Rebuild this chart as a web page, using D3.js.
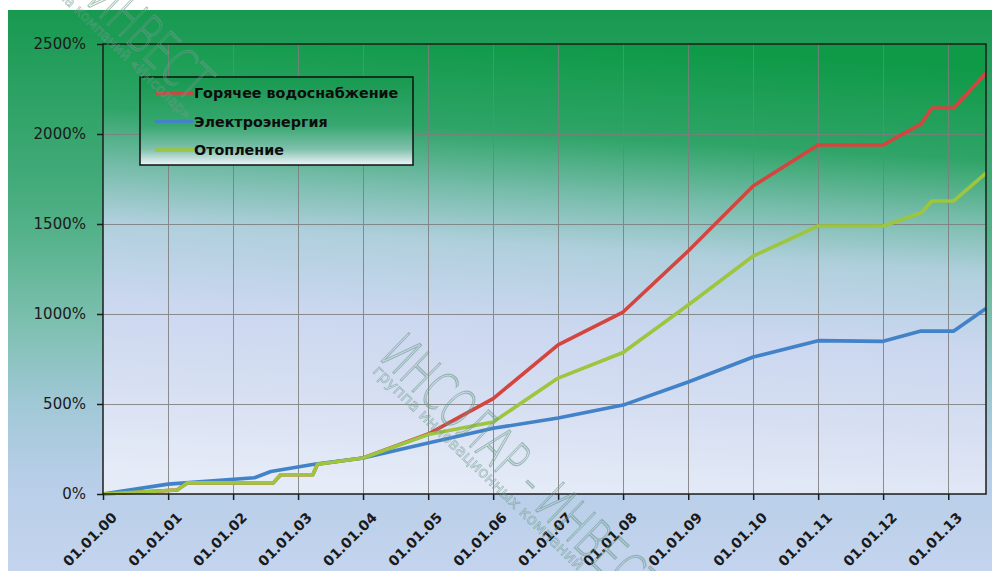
<!DOCTYPE html>
<html>
<head>
<meta charset="utf-8">
<script src="https://cdn.jsdelivr.net/npm/d3@7"></script>
<style>
  html, body { margin: 0; padding: 0; background: #ffffff; }
  svg { display: block; }
</style>
</head>
<body>
<svg id="chart" width="992" height="571"></svg>
<script>
// Series names (legend order)
const seriesNames = ["Горячее водоснабжение", "Электроэнергия", "Отопление"];

// Горячее водоснабжение, % growth
const hotWaterDates = ["2000-01-01","2001-02-20","2001-04-20","2002-08-15","2002-09-25","2003-03-25","2003-04-20","2004-01-01","2005-01-01","2006-01-01","2007-01-01","2008-01-01","2009-01-01","2010-01-01","2011-01-01","2012-01-01","2012-08-01","2012-10-01","2013-02-01","2013-08-01"];
const hotWaterValues = [0, 22, 62, 62, 107, 107, 165, 200, 333, 530, 828, 1011, 1350, 1711, 1939, 1939, 2056, 2144, 2144, 2339];

// Электроэнергия, % growth
const powerDates = ["2000-01-01","2001-01-01","2002-05-01","2002-08-01","2003-04-01","2004-01-01","2005-01-01","2006-01-01","2007-01-01","2008-01-01","2009-01-01","2010-01-01","2011-01-01","2012-01-01","2012-08-01","2013-02-01","2013-08-01"];
const powerValues = [0, 55, 90, 125, 165, 200, 283, 365, 422, 494, 622, 761, 852, 848, 905, 905, 1030];

// Отопление, % growth
const heatingDates = ["2000-01-01","2001-02-20","2001-04-20","2002-08-15","2002-09-25","2003-03-25","2003-04-20","2004-01-01","2005-01-01","2006-01-01","2007-01-01","2008-01-01","2009-01-01","2010-01-01","2011-01-01","2012-01-01","2012-08-01","2012-10-01","2013-02-01","2013-08-01"];
const heatingValues = [0, 22, 62, 62, 107, 107, 165, 200, 330, 400, 644, 786, 1050, 1322, 1489, 1489, 1561, 1628, 1628, 1783];

// Axis ticks
const yTicks = [0, 500, 1000, 1500, 2000, 2500];
const xTickYears = [2000, 2001, 2002, 2003, 2004, 2005, 2006, 2007, 2008, 2009, 2010, 2011, 2012, 2013];

const seriesColors = ["#d4453f", "#4282c8", "#9dc53e"];

const svg = d3.select("#chart");
const W = 992, H = 571;
const plot = { left: 103, top: 44, right: 986, bottom: 494 };
const FONT = "'DejaVu Sans', Verdana, sans-serif";

const parse = d3.timeParse("%Y-%m-%d");
const fmt = d3.timeFormat("%d.%m.%y");

const x = d3.scaleTime()
  .domain([new Date(2000, 0, 1), new Date(2013, 7, 1)])
  .range([plot.left, plot.right]);
const y = d3.scaleLinear()
  .domain([0, 2500])
  .range([plot.bottom, plot.top]);

const defs = svg.append("defs");

function grad(id, stops, x1, y1, x2, y2) {
  const g = defs.append("linearGradient").attr("id", id)
    .attr("gradientUnits", "userSpaceOnUse")
    .attr("x1", x1).attr("x2", x2).attr("y1", y1).attr("y2", y2);
  stops.forEach(s => g.append("stop").attr("offset", s[0]).attr("stop-color", s[1]));
}

grad("bgGrad", [[0, "#17994f"], [0.3, "#42aa79"], [0.4, "#55b28b"], [0.55, "#7bbfae"],
                [0.70, "#a0c8d6"], [0.84, "#b8cee8"], [1, "#c4d4ee"]], 0, 10, 0, 571);
grad("plotGrad", [[0, "#0f9a48"], [0.2, "#2fa467"], [0.33, "#76bcaa"], [0.45, "#afcfdc"],
                  [0.62, "#cad7ef"], [0.8, "#d6dff2"], [1, "#e5ebf7"]], 560, plot.top, 533, plot.bottom);
grad("legGrad", [[0, "#17994f"], [0.55, "#38a870"], [0.82, "#80c0ac"], [1, "#eef4f9"]], 0, 77, 0, 165);

// Chart background
svg.append("rect").attr("x", 8).attr("y", 10).attr("width", W - 8).attr("height", H - 10)
  .attr("fill", "url(#bgGrad)");

// Plot area
svg.append("rect")
  .attr("x", plot.left).attr("y", plot.top)
  .attr("width", plot.right - plot.left).attr("height", plot.bottom - plot.top)
  .attr("fill", "url(#plotGrad)");

// Gridlines
const grid = svg.append("g").attr("stroke", "#7d7d7d").attr("stroke-width", 1).attr("opacity", 0.85);
grid.selectAll("line.h").data(yTicks.slice(1, -1)).join("line")
  .attr("x1", plot.left).attr("x2", plot.right)
  .attr("y1", d => Math.round(y(d)) + 0.5).attr("y2", d => Math.round(y(d)) + 0.5);
grid.selectAll("line.v").data(xTickYears.slice(1)).join("line")
  .attr("y1", plot.top).attr("y2", plot.bottom)
  .attr("x1", d => Math.round(x(new Date(d, 0, 1))) + 0.5)
  .attr("x2", d => Math.round(x(new Date(d, 0, 1))) + 0.5);

// Lines
const line = d3.line().x(d => x(d[0])).y(d => y(d[1]));
const series = [
  { dates: hotWaterDates, values: hotWaterValues, color: seriesColors[0] },
  { dates: powerDates, values: powerValues, color: seriesColors[1] },
  { dates: heatingDates, values: heatingValues, color: seriesColors[2] }
];
svg.append("g").selectAll("path").data(series).join("path")
  .attr("d", s => line(s.dates.map((d, i) => [parse(d), s.values[i]])))
  .attr("fill", "none")
  .attr("stroke", s => s.color)
  .attr("stroke-width", 3.6)
  .attr("stroke-linejoin", "round");

// Plot frame
svg.append("rect")
  .attr("x", plot.left).attr("y", plot.top)
  .attr("width", plot.right - plot.left).attr("height", plot.bottom - plot.top)
  .attr("fill", "none").attr("stroke", "#1c1c1c").attr("stroke-width", 1.5);

// Y axis
const yAxis = svg.append("g").attr("transform", `translate(${plot.left},0)`)
  .call(d3.axisLeft(y).tickValues(yTicks).tickSize(6).tickPadding(11).tickFormat(d => d + "%"));
yAxis.select(".domain").remove();
yAxis.selectAll(".tick line").attr("stroke", "#1c1c1c").attr("stroke-width", 1.5);
yAxis.selectAll(".tick text")
  .attr("fill", "#1a1a1a")
  .style("font-family", FONT)
  .style("font-size", "15px");

// X axis
const xAxis = svg.append("g").attr("transform", `translate(0,${plot.bottom})`)
  .call(d3.axisBottom(x).tickValues(xTickYears.map(yr => new Date(yr, 0, 1))).tickSize(6).tickFormat(fmt));
xAxis.select(".domain").remove();
xAxis.selectAll(".tick line").attr("stroke", "#1c1c1c").attr("stroke-width", 1.5);
xAxis.selectAll(".tick text")
  .attr("fill", "#1a1a1a")
  .attr("text-anchor", "end")
  .attr("dy", 0)
  .attr("transform", "translate(8,18) rotate(-45)")
  .style("font-family", FONT)
  .style("font-size", "14px")
  .style("font-weight", 700);

// Legend
const leg = svg.append("g");
leg.append("rect").attr("x", 140).attr("y", 77).attr("width", 273).attr("height", 88)
  .attr("fill", "url(#legGrad)").attr("stroke", "#111").attr("stroke-width", 1.5);
const rows = leg.selectAll("g.row").data(seriesNames).join("g")
  .attr("transform", (d, i) => `translate(0,${93 + i * 28.5})`);
rows.append("line").attr("x1", 155).attr("x2", 193).attr("y1", 0).attr("y2", 0)
  .attr("stroke", (d, i) => seriesColors[i]).attr("stroke-width", 3.6);
rows.append("text").attr("x", 194).attr("y", 0).attr("dy", "0.35em")
  .attr("fill", "#0d0d0d")
  .style("font-family", FONT)
  .style("font-size", "14.3px").style("font-weight", 700)
  .text(d => d);

// Watermark over the whole chart: thin, narrow outlined lettering
const wm = svg.append("g").attr("fill", "none").attr("stroke", "#6d9a8a")
  .attr("opacity", 0.6)
  .style("font-family", FONT);
wm.append("text").attr("transform", "translate(378,358) rotate(44) scale(0.66,1)")
  .attr("stroke-width", 1.4)
  .style("font-size", "54px").style("font-weight", 200).text("ИНСОЛАР - ИНВЕСТ");
wm.append("text").attr("transform", "translate(190,104) rotate(44) scale(0.66,1)")
  .attr("text-anchor", "end").attr("stroke-width", 1.4)
  .style("font-size", "54px").style("font-weight", 200).text("ИНСОЛАР - ИНВЕСТ");
wm.append("text").attr("transform", "translate(372,372) rotate(44)")
  .attr("stroke-width", 0.7).style("font-size", "16px").text("группа инновационных компаний");
wm.append("text").attr("transform", "translate(186,120) rotate(44)")
  .attr("text-anchor", "end").attr("stroke-width", 0.7)
  .style("font-size", "14px").text("группа компаний «Инсолар»");
</script>
</body>
</html>
